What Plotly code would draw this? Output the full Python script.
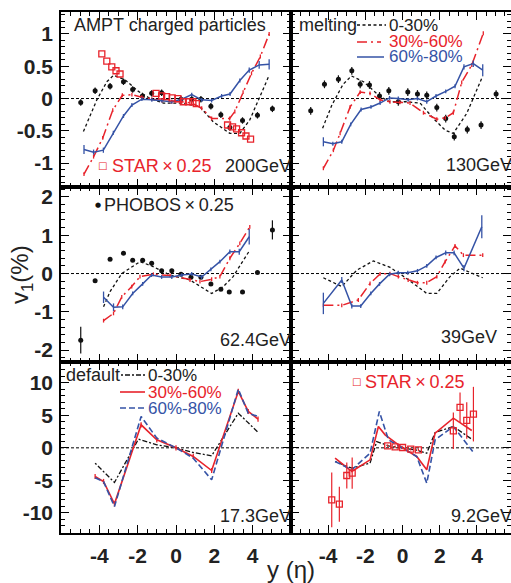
import plotly.graph_objects as go

# ---------------- data (v1 in %) ----------------
# 200 GeV
eta_200_c0 = [-4.83, -4.13, -3.61, -3.26, -2.66, -1.96, -1.35, -0.66, 0.38, 1.25, 1.94, 2.81, 3.33, 3.85, 4.38, 4.86]
v1_200_c0 = [-0.51, -0.02, 0.26, 0.36, 0.29, 0.11, 0.0, -0.07, -0.07, -0.13, -0.36, -0.54, -0.54, -0.33, 0.03, 0.36]
eta_200_c1 = [-4.8, -4.3, -3.82, -3.3, -2.8, -2.3, -1.78, -1.26, -0.74, -0.22, 0.3, 0.82, 1.34, 1.86, 2.8, 3.07, 3.5, 3.94, 4.4, 4.86]
v1_200_c1 = [-1.17, -0.9, -0.61, -0.18, 0.05, 0.06, 0.02, -0.01, -0.03, -0.05, -0.05, -0.07, -0.15, -0.31, -0.31, -0.2, 0.1, 0.39, 0.65, 1.0]
eta_200_c2 = [-4.8, -4.3, -3.79, -3.27, -2.74, -2.3, -1.78, -1.26, -0.74, -0.22, 0.3, 0.82, 1.34, 1.86, 2.38, 2.82, 3.33, 3.82, 4.34, 4.86]
v1_200_c2 = [-0.79, -0.83, -0.8, -0.53, -0.27, -0.1, -0.01, -0.02, -0.03, -0.05, -0.01, 0.06, -0.02, -0.03, 0.04, 0.07, 0.28, 0.44, 0.52, 0.53]
err_200_c2 = [0.07, 0.04, 0.04, 0.03, 0.03, 0.03, 0.03, 0.03, 0.03, 0.03, 0.03, 0.03, 0.03, 0.03, 0.03, 0.03, 0.03, 0.04, 0.06, 0.08]
eta_200_phobos = [-4.97, -4.22, -3.44, -2.74, -2.26, -1.75, -1.27, -0.75, 0.26, 0.82, 1.3, 1.82, 2.34, 2.81, 3.47, 4.25, 5.03]
v1_200_phobos = [-0.06, 0.12, 0.19, 0.26, 0.14, 0.04, 0.08, 0.09, -0.01, -0.01, -0.01, -0.12, -0.25, -0.45, -0.34, -0.26, -0.16]
eta_200_star = [-3.87, -3.61, -3.35, -3.13, -2.92, -1.04, -0.75, -0.49, -0.2, 0.1, 0.38, 0.65, 0.88, 1.06, 2.69, 2.95, 3.16, 3.42, 3.65, 3.89]
v1_200_star = [0.69, 0.58, 0.49, 0.43, 0.38, 0.08, 0.04, 0.03, 0.01, 0.0, -0.05, -0.05, -0.05, -0.08, -0.41, -0.44, -0.47, -0.53, -0.58, -0.63]

# 130 GeV
eta_130_c0 = [-4.3, -3.8, -3.2, -2.75, -2.1, -1.2, -0.7, 0.2, 0.94, 1.66, 2.29, 2.73, 3.45, 3.99, 4.31]
v1_130_c0 = [-0.46, -0.1, 0.22, 0.35, 0.26, 0.03, -0.05, -0.05, -0.07, -0.31, -0.49, -0.54, -0.23, 0.13, 0.35]
eta_130_c1 = [-4.26, -3.72, -3.36, -2.82, -2.28, -1.75, -1.21, -0.68, -0.15, 0.4, 1.12, 1.84, 2.3, 2.73, 3.18, 3.72, 4.34]
v1_130_c1 = [-1.08, -0.8, -0.54, -0.13, 0.1, 0.08, -0.02, -0.05, -0.06, -0.07, -0.22, -0.32, -0.3, -0.22, 0.25, 0.52, 1.01]
eta_130_c2 = [-4.26, -3.75, -3.27, -2.79, -2.23, -1.7, -1.21, -0.7, -0.23, 0.3, 0.8, 1.3, 1.8, 2.32, 2.82, 3.3, 3.8, 4.31]
v1_130_c2 = [-0.67, -0.7, -0.67, -0.4, -0.17, -0.13, -0.07, 0.01, 0.0, -0.02, 0.0, -0.05, 0.04, 0.11, 0.19, 0.49, 0.54, 0.44]
err_130_c2 = [0.07, 0.03, 0.03, 0.03, 0.03, 0.03, 0.03, 0.03, 0.03, 0.03, 0.03, 0.03, 0.03, 0.03, 0.03, 0.04, 0.05, 0.09]
eta_130_phobos = [-4.94, -4.2, -3.45, -2.73, -2.28, -1.78, -1.24, -0.74, -0.23, 0.28, 0.8, 1.3, 1.84, 2.32, 2.78, 3.48, 4.22, 5.03]
v1_130_phobos = [-0.19, 0.22, 0.3, 0.43, 0.22, 0.21, 0.04, 0.12, -0.05, 0.1, 0.07, 0.05, -0.14, -0.31, -0.59, -0.48, -0.41, 0.07]

# 62.4 GeV
eta_62_c0 = [-3.78, -3.44, -2.83, -1.88, -1.27, -0.31, 0.73, 1.25, 1.86, 2.47, 2.98, 3.42, 3.85]
v1_62_c0 = [-0.87, -0.47, 0.0, 0.31, 0.2, -0.04, -0.17, -0.34, -0.52, -0.34, -0.08, 0.27, 0.61]
eta_62_c1 = [-3.78, -3.26, -2.83, -2.31, -1.88, -1.18, -0.31, 0.73, 1.25, 1.86, 2.29, 2.81, 3.33, 3.85]
v1_62_c1 = [-1.23, -1.04, -0.61, -0.34, -0.08, -0.02, -0.05, -0.17, -0.21, -0.15, -0.08, 0.4, 0.79, 1.22]
eta_62_c2 = [-3.78, -3.26, -2.78, -2.26, -1.74, -1.27, -0.75, -0.22, 0.3, 0.82, 1.34, 1.82, 2.29, 2.81, 3.3, 3.82]
v1_62_c2 = [-0.62, -0.88, -0.87, -0.52, -0.27, -0.04, -0.09, -0.09, -0.04, -0.01, -0.09, 0.11, 0.31, 0.57, 0.57, 0.96]
err_62_c2 = [0.15, 0.1, 0.06, 0.05, 0.05, 0.05, 0.05, 0.05, 0.05, 0.05, 0.05, 0.05, 0.05, 0.06, 0.08, 0.2]
eta_62_phobos = [-4.97, -4.22, -3.44, -2.74, -2.26, -1.74, -1.27, -0.75, -0.22, 0.26, 0.78, 1.3, 1.82, 2.34, 2.78, 3.47, 4.25, 5.03]
v1_62_phobos = [-1.74, -0.19, 0.37, 0.53, 0.35, 0.35, 0.27, 0.07, 0.07, -0.02, -0.1, -0.1, -0.27, -0.41, -0.48, -0.48, 0.03, 1.14]
err_62_phobos = [0.35, 0.04, 0.04, 0.04, 0.04, 0.04, 0.04, 0.04, 0.04, 0.04, 0.04, 0.04, 0.04, 0.04, 0.04, 0.04, 0.04, 0.25]

# 39 GeV
eta_39_c0 = [-4.26, -3.27, -2.46, -1.57, -0.67, 0.22, 1.3, 1.84, 2.55, 3.09, 4.31]
v1_39_c0 = [-0.11, -0.34, 0.09, 0.33, 0.16, -0.13, -0.52, -0.52, -0.08, 0.14, -0.11]
eta_39_c1 = [-4.26, -3.27, -2.38, -1.75, -1.21, -0.68, -0.23, 0.3, 0.8, 1.3, 1.84, 2.29, 2.82, 3.27, 4.31]
v1_39_c1 = [-0.83, -0.83, -0.69, -0.26, -0.01, 0.0, -0.08, -0.17, -0.24, -0.24, -0.08, 0.31, 0.72, 0.48, 0.48]
eta_39_c2 = [-4.26, -3.27, -2.73, -2.25, -1.71, -1.24, -0.7, -0.23, 0.28, 0.8, 1.3, 1.8, 2.32, 2.77, 3.3, 4.26]
v1_39_c2 = [-0.78, -0.17, -0.85, -0.85, -0.52, -0.27, -0.02, 0.02, 0.02, 0.07, 0.2, 0.42, 0.54, 0.54, 0.14, 1.22]
err_39_c2 = [0.28, 0.08, 0.06, 0.05, 0.05, 0.05, 0.05, 0.05, 0.05, 0.05, 0.05, 0.05, 0.06, 0.06, 0.08, 0.3]

# 17.3 GeV
eta_17_c0 = [-4.22, -3.21, -1.96, -1.0, 0.0, 0.9, 1.86, 3.25, 4.29]
v1_17_c0 = [-2.36, -5.33, 1.33, 0.46, 0.0, -0.72, -1.23, 5.33, 2.36]
eta_17_c1 = [-4.22, -3.78, -3.21, -1.82, -1.0, 0.0, 0.9, 1.86, 3.25, 3.77, 4.28]
v1_17_c1 = [-4.41, -5.18, -8.62, 3.54, 1.23, 0.0, -1.33, -3.49, 8.67, 5.59, 4.41]
eta_17_c2 = [-4.22, -3.78, -3.21, -1.82, -1.0, 0.0, 0.9, 1.86, 3.25, 3.77, 4.29]
v1_17_c2 = [-4.6, -5.2, -9.03, 4.82, 1.49, 0.0, -1.59, -4.92, 9.03, 5.3, 4.82]

# 9.2 GeV
eta_9_c0 = [-3.63, -2.73, -1.75, -1.39, -0.76, 0.0, 0.76, 1.3, 1.75, 2.73, 3.77]
v1_9_c0 = [-2.1, -3.13, -2.36, 0.97, 0.31, 0.0, -0.36, -0.82, 2.36, 3.28, 1.23]
eta_9_c1 = [-3.63, -2.73, -1.75, -1.3, -0.94, 0.0, 0.76, 1.3, 1.75, 2.73, 3.72]
v1_9_c1 = [-1.59, -3.64, -1.85, 3.28, 2.0, 0.0, -1.33, -3.38, 2.26, 4.56, 2.67]
eta_9_c2 = [-3.63, -2.73, -1.75, -1.25, -0.76, 0.0, 0.76, 1.3, 1.75, 2.73, 3.77]
v1_9_c2 = [-2.1, -3.38, -0.82, 5.59, 1.23, 0.0, -1.33, -5.44, 1.23, 3.28, -0.56]
eta_9_star = [-3.81, -3.4, -3.0, -2.71, -0.8, -0.4, 0.0, 0.44, 0.85, 2.73, 3.09, 3.45, 3.81]
v1_9_star = [-8.0, -8.67, -4.26, -3.9, 0.31, 0.15, 0.05, -0.2, -0.31, 2.62, 6.21, 4.21, 5.18]
err_9_star = [4.2, 2.7, 2.0, 2.4, 0.2, 0.2, 0.2, 0.2, 0.2, 2.8, 2.3, 2.8, 4.2]

x_tickvals = [-4, -2, 0, 2, 4]
x_ticktext = ["-4", "-2", "0", "2", "4"]
y_tickvals = [[-1, -0.5, 0, 0.5, 1], [-2, -1, 0, 1, 2], [-10, -5, 0, 5, 10]]
y_ticktext = [["-1", "-0.5", "0", "0.5", "1"], ["-2", "-1", "0", "1", "2"], ["-10", "-5", "0", "5", "10"]]
energy_labels = ["200GeV", "130GeV", "62.4GeV", "39GeV", "17.3GeV", "9.2GeV"]
cent_labels = ["0-30%", "30%-60%", "60%-80%"]

# ---------------- layout geometry ----------------
W, H = 511, 583
L, R, T, B = 61, 0, 12, 50
PW, PH = W - L - R, H - T - B
RED = "#e8232b"
BLUE = "#3553a6"
BLACK = "#111111"
FONT = "Liberation Sans, Arial, Helvetica, sans-serif"


def fx(p):
    return (p - L) / PW


def fy(p):
    return (H - B - p) / PH


xdom = [[0, fx(291)], [fx(291), 1]]
ydom = [[fy(187), 1], [fy(362), fy(187)], [0, fy(362)]]
yranges = [[-1.37, 1.34], [-2.31, 2.26], [-13.1, 13.2]]
xranges = [[-6, 6], [-6, 5.83]]
ymajor_minor = [0.1, 0.2, 1]

fig = go.Figure()


def ax_id(k):
    return "" if k == 0 else str(k + 1)


layout_axes = {}
for r in range(3):
    for c in range(2):
        k = r * 2 + c
        sid = ax_id(k)
        common = dict(
            showline=True, linecolor="black", linewidth=1.5, mirror="allticks",
            ticks="inside", ticklen=8, tickwidth=1.4, tickcolor="black",
            showgrid=False, zeroline=False, fixedrange=True, automargin=False,
            tickfont=dict(family=FONT, size=21, color="#222", weight="bold"),
        )
        layout_axes["xaxis" + sid] = dict(
            common, domain=xdom[c], range=xranges[c], anchor="y" + sid,
            tickmode="array", tickvals=x_tickvals, ticktext=x_ticktext,
            showticklabels=(r == 2), ticklabelstandoff=3,
            minor=dict(ticks="inside", ticklen=4, tickwidth=1, tickcolor="black",
                       tickmode="linear", tick0=0, dtick=0.5, showgrid=False),
        )
        layout_axes["yaxis" + sid] = dict(
            common, domain=ydom[r], range=yranges[r], anchor="x" + sid,
            tickmode="array", tickvals=y_tickvals[r], ticktext=y_ticktext[r],
            showticklabels=(c == 0), ticklabelstandoff=2,
            minor=dict(ticks="inside", ticklen=4, tickwidth=1, tickcolor="black",
                       tickmode="linear", tick0=0, dtick=ymajor_minor[r], showgrid=False),
        )
fig.update_layout(**layout_axes)

TOP_STYLES = [
    dict(color=BLACK, dash="3px,2.5px", width=1.3),
    dict(color=RED, dash="10px,4px,2px,4px", width=1.5),
    dict(color=BLUE, dash="solid", width=1.5),
]
BOT_STYLES = [
    dict(color=BLACK, dash="2px,2px,5px,2px", width=1.3),
    dict(color=RED, dash="solid", width=1.6),
    dict(color=BLUE, dash="6px,3px", width=1.6),
]


def add_curve(k, xs, ys, style, err=None, err_const=None):
    sid = ax_id(k)
    kw = {}
    if err is not None:
        kw["error_y"] = dict(type="data", array=err, visible=True, width=0,
                             thickness=1.3, color=style["color"])
    elif err_const is not None:
        kw["error_y"] = dict(type="constant", value=err_const, visible=True, width=0,
                             thickness=1.3, color=style["color"])
    fig.add_trace(go.Scatter(
        x=xs, y=ys, mode="lines", line=style, showlegend=False,
        xaxis="x" + sid, yaxis="y" + sid, **kw))


def add_points(k, xs, ys, kind, err=None, err_const=None):
    sid = ax_id(k)
    if kind == "phobos":
        marker = dict(symbol="circle", size=5, color=BLACK)
        col = BLACK
    else:
        marker = dict(symbol="square-open", size=6, color=RED, line=dict(width=1.3, color=RED))
        col = RED
    kw = {}
    if err is not None:
        kw["error_y"] = dict(type="data", array=err, visible=True, width=0, thickness=1.2, color=col)
    elif err_const is not None:
        kw["error_y"] = dict(type="constant", value=err_const, visible=True, width=0, thickness=1.2, color=col)
    fig.add_trace(go.Scatter(
        x=xs, y=ys, mode="markers", marker=marker, showlegend=False,
        xaxis="x" + sid, yaxis="y" + sid, **kw))


# 200 GeV
add_points(0, eta_200_phobos, v1_200_phobos, "phobos", err_const=0.05)
add_curve(0, eta_200_c0, v1_200_c0, TOP_STYLES[0])
add_curve(0, eta_200_c1, v1_200_c1, TOP_STYLES[1], err_const=0.03)
add_curve(0, eta_200_c2, v1_200_c2, TOP_STYLES[2], err=err_200_c2)
add_points(0, eta_200_star, v1_200_star, "star")
# 130 GeV
add_points(1, eta_130_phobos, v1_130_phobos, "phobos", err_const=0.06)
add_curve(1, eta_130_c0, v1_130_c0, TOP_STYLES[0])
add_curve(1, eta_130_c1, v1_130_c1, TOP_STYLES[1], err_const=0.03)
add_curve(1, eta_130_c2, v1_130_c2, TOP_STYLES[2], err=err_130_c2)
# 62.4 GeV
add_points(2, eta_62_phobos, v1_62_phobos, "phobos", err=err_62_phobos)
add_curve(2, eta_62_c0, v1_62_c0, TOP_STYLES[0])
add_curve(2, eta_62_c1, v1_62_c1, TOP_STYLES[1], err_const=0.05)
add_curve(2, eta_62_c2, v1_62_c2, TOP_STYLES[2], err=err_62_c2)
# 39 GeV
add_curve(3, eta_39_c0, v1_39_c0, TOP_STYLES[0])
add_curve(3, eta_39_c1, v1_39_c1, TOP_STYLES[1], err_const=0.05)
add_curve(3, eta_39_c2, v1_39_c2, TOP_STYLES[2], err=err_39_c2)
# 17.3 GeV
add_curve(4, eta_17_c0, v1_17_c0, BOT_STYLES[0])
add_curve(4, eta_17_c1, v1_17_c1, BOT_STYLES[1], err_const=0.4)
add_curve(4, eta_17_c2, v1_17_c2, BOT_STYLES[2])
# 9.2 GeV
add_curve(5, eta_9_c0, v1_9_c0, BOT_STYLES[0])
add_curve(5, eta_9_c1, v1_9_c1, BOT_STYLES[1])
add_curve(5, eta_9_c2, v1_9_c2, BOT_STYLES[2])
add_points(5, eta_9_star, v1_9_star, "star", err=err_9_star)

# dashed zero lines
shapes = []
for k in range(6):
    sid = ax_id(k)
    shapes.append(dict(type="line", xref="x" + sid + " domain", yref="y" + sid,
                       x0=0, x1=1, y0=0, y1=0,
                       line=dict(color="black", width=1, dash="3px,2px"), layer="below"))


# legend line samples (pixel positions)
def sample(x0, x1, y, style):
    shapes.append(dict(type="line", xref="paper", yref="paper",
                       x0=fx(x0), x1=fx(x1), y0=fy(y), y1=fy(y),
                       line=dict(color=style["color"], width=style["width"], dash=style["dash"])))


sample(357, 386, 25, TOP_STYLES[0])
sample(357, 381, 42, TOP_STYLES[1])
sample(357, 384, 57, TOP_STYLES[2])
sample(121, 145, 375, BOT_STYLES[0])
sample(120, 145, 392, BOT_STYLES[1])
sample(120, 144, 408, BOT_STYLES[2])

annotations = []


def text(s, x, y, anchor="left", color="#222", size=18, family=FONT, angle=0):
    annotations.append(dict(text=s, x=fx(x), y=fy(y), xref="paper", yref="paper",
                            xanchor=anchor, yanchor="middle", showarrow=False,
                            textangle=angle, borderpad=0,
                            font=dict(family=family, size=size, color=color)))


text("AMPT charged particles", 73, 25)
text(energy_labels[0], 292, 166, "right")
text("STAR\u2009\u00d7\u20090.25", 111, 166, color=RED)
text("\u25a1", 102, 165, "center", color=RED, size=10, family="DejaVu Sans")
text("melting", 298, 25)
text(cent_labels[0], 388, 25, size=17)
text(cent_labels[1], 388, 41, color=RED, size=17)
text(cent_labels[2], 388, 57, color=BLUE, size=17)
text(energy_labels[1], 513, 165, "right")
text("\u25cf", 98, 205, "center", color=BLACK, size=7, family="DejaVu Sans")
text("PHOBOS\u2009\u00d7\u20090.25", 103, 205)
text(energy_labels[2], 292, 340, "right")
text(energy_labels[3], 498, 337, "right")
text("default", 65, 375)
text(cent_labels[0], 147, 375, size=17)
text(cent_labels[1], 147, 392, color=RED, size=17)
text(cent_labels[2], 147, 408, color=BLUE, size=17)
text(energy_labels[4], 292, 516, "right")
text(energy_labels[5], 513, 516, "right")
text("STAR\u2009\u00d7\u20090.25", 364, 382, color=RED)
text("\u25a1", 356, 381, "center", color=RED, size=10, family="DejaVu Sans")
# axis titles
text("y (\u03b7)", 291, 569, "center", size=24)
text("v<sub>1</sub>(%)", 21, 275, "center", size=24, angle=-90)

fig.update_layout(
    width=W, height=H, autosize=False,
    margin=dict(l=L, r=R, t=T, b=B, autoexpand=False),
    paper_bgcolor="white", plot_bgcolor="white",
    showlegend=False,
    shapes=shapes, annotations=annotations,
    font=dict(family=FONT, color="#222"),
)

fig.write_html("out.html",
               config={"responsive": False, "displayModeBar": False},
               post_script="document.body.style.margin='0px';document.body.style.overflow='hidden';")
